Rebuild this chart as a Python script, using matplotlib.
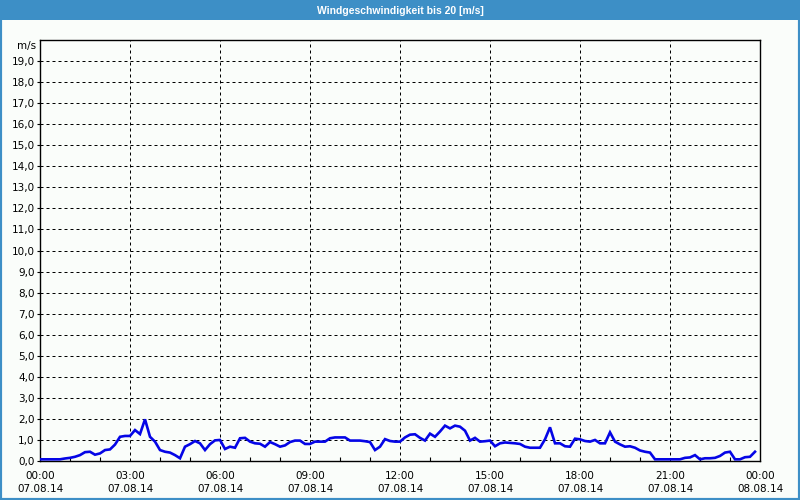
import matplotlib
matplotlib.use('Agg')
import matplotlib.pyplot as plt
import matplotlib.dates as mdates
from matplotlib.patches import Rectangle
from matplotlib import font_manager
import pandas as pd

# ---- data ----
title = 'Windgeschwindigkeit bis 20 [m/s]'
unit_label = 'm/s'
start_time = '2014-08-07 00:00'
end_time = '2014-08-08 00:00'
sample_freq = '10min'
wind = [
    0.08, 0.08, 0.08, 0.08, 0.08, 0.12, 0.15, 0.20, 0.28, 0.42,
    0.44, 0.30, 0.36, 0.52, 0.55, 0.78, 1.15, 1.19, 1.19, 1.47,
    1.28, 1.98, 1.15, 0.92, 0.52, 0.44, 0.40, 0.28, 0.13, 0.68,
    0.80, 0.95, 0.84, 0.52, 0.80, 0.98, 1.00, 0.57, 0.68, 0.63,
    1.08, 1.10, 0.92, 0.84, 0.82, 0.68, 0.90, 0.80, 0.68, 0.74,
    0.90, 0.97, 0.97, 0.81, 0.81, 0.92, 0.92, 0.92, 1.08, 1.12,
    1.12, 1.12, 0.97, 0.97, 0.97, 0.94, 0.90, 0.52, 0.68, 1.04,
    0.95, 0.92, 0.92, 1.12, 1.25, 1.27, 1.10, 0.97, 1.30, 1.15,
    1.40, 1.68, 1.55, 1.68, 1.63, 1.44, 0.97, 1.10, 0.92, 0.94,
    0.97, 0.70, 0.84, 0.88, 0.86, 0.84, 0.81, 0.68, 0.63, 0.63,
    0.63, 1.03, 1.60, 0.84, 0.84, 0.70, 0.68, 1.06, 1.03, 0.95,
    0.92, 1.00, 0.84, 0.84, 1.36, 0.92, 0.79, 0.68, 0.70, 0.63,
    0.50, 0.44, 0.40, 0.08, 0.08, 0.08, 0.08, 0.08, 0.08, 0.15,
    0.17, 0.28, 0.08, 0.13, 0.13, 0.15, 0.24, 0.40, 0.44, 0.08,
    0.08, 0.18, 0.20, 0.44,
]
y_ticks = list(range(0, 20))
y_tick_labels = [f'{v},0' for v in y_ticks]
y_max = 20

times = pd.date_range(start_time, periods=len(wind), freq=sample_freq)

# ---- style ----
bg = '#fafdfa'
bar_blue = '#3d8fc6'
W, H = 800, 500

available = {f.name for f in font_manager.fontManager.ttflist}
if 'Liberation Sans Narrow' in available:
    title_family, title_size = 'Liberation Sans Narrow', 8.5
elif 'Liberation Sans' in available:
    title_family, title_size = 'Liberation Sans', 7.5
else:
    title_family, title_size = 'DejaVu Sans', 6.5

fig = plt.figure(figsize=(W / 100, H / 100), dpi=100, facecolor=bg)

# title bar and border
fig.patches.append(Rectangle((0, 1 - 20 / H), 1, 20 / H, transform=fig.transFigure,
                             facecolor=bar_blue, edgecolor='none', zorder=0))
fig.patches.append(Rectangle((0, 0), 1, 1, transform=fig.transFigure, fill=False,
                             edgecolor=bar_blue, linewidth=3, zorder=5))
fig.text(0.5, 1 - 10.5 / H, title, ha='center', va='center', color='white',
         fontsize=title_size, family=title_family, fontweight='bold')

ax = fig.add_axes([40 / W, 39 / H, 720 / W, 421 / H])
ax.set_facecolor(bg)

ax.plot(times, wind, color='#0505e6', linewidth=1.9, solid_joinstyle='miter', zorder=3)

ax.set_xlim(pd.Timestamp(start_time), pd.Timestamp(end_time))
ax.set_ylim(0, y_max)

ax.xaxis.set_major_locator(mdates.HourLocator(byhour=range(0, 24, 3)))
ax.xaxis.set_major_formatter(mdates.DateFormatter('%H:%M\n%d.%m.%y'))
ax.xaxis.set_minor_locator(mdates.HourLocator())
ax.set_yticks(y_ticks)
ax.set_yticklabels(y_tick_labels)

ax.tick_params(axis='x', which='major', direction='in', length=0, pad=7,
               labelsize=7.5, colors='black')
ax.tick_params(axis='x', which='minor', direction='in', length=3, width=0.8)
ax.tick_params(axis='y', which='major', direction='out', length=2.5, width=0.8,
               labelsize=7.5, pad=1.5)
for lab in ax.get_xticklabels():
    lab.set_linespacing(1.45)

ax.grid(True, which='major', color='black', linewidth=0.72, linestyle=(0, (3, 3)))
for s in ax.spines.values():
    s.set_linewidth(1.0)
    s.set_color('black')

ax.annotate(unit_label, xy=(0, 1), xycoords='axes fraction', xytext=(-3, -4.5),
            textcoords='offset points', ha='right', va='center', fontsize=7.5)

fig.savefig('out.png', dpi=100, facecolor=bg)
